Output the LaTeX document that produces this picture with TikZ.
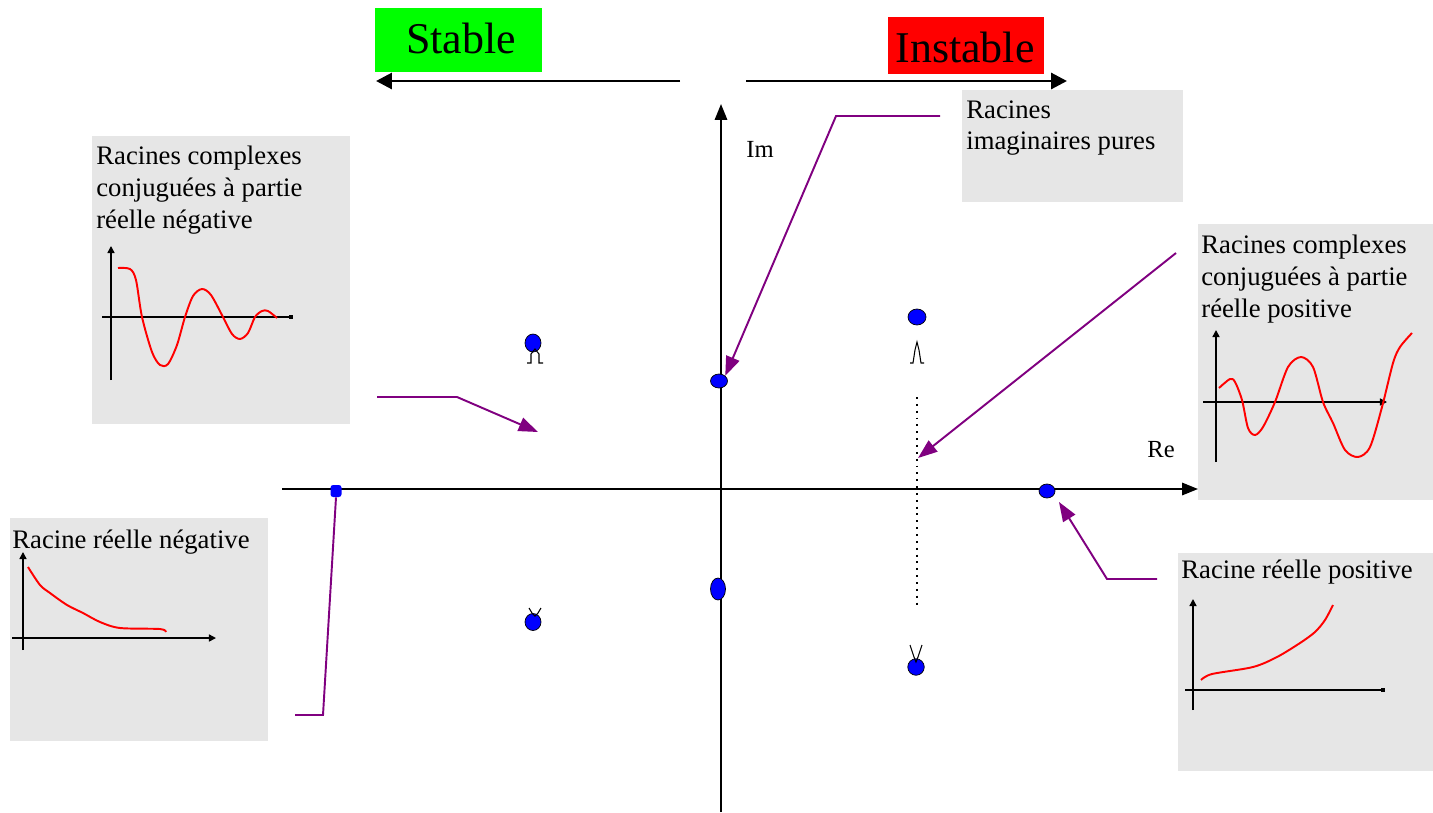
\documentclass[tikz,border=0pt]{standalone}
\usepackage{fontspec}
\setmainfont{Liberation Serif}
\usetikzlibrary{arrows.meta,shapes.geometric}
\definecolor{boxgray}{RGB}{230,230,230}
\definecolor{purp}{RGB}{128,0,128}
\definecolor{grn}{RGB}{0,255,0}
\definecolor{rd}{RGB}{255,0,0}
\definecolor{pblue}{RGB}{0,0,255}
\tikzset{
  panel/.style={fill=boxgray, draw=none, anchor=north west, inner sep=0pt},
  boxtext/.style={anchor=north west, inner sep=0pt, align=left, font=\fontsize{15.2}{18.1}\selectfont},
  bigtext/.style={inner sep=0pt, font=\fontsize{25}{28}\selectfont},
  axistext/.style={anchor=base west, inner sep=0pt, font=\fontsize{14}{16}\selectfont},
  bigarrow/.style={line width=1.7pt, -{Triangle[length=9pt,width=9pt]}},
  axis/.style={line width=1.1pt, -{Triangle[length=9pt,width=7pt]}},
  conn/.style={purp, line width=1.1pt, -{Triangle[length=11pt,width=8pt]}},
  connplain/.style={purp, line width=1.1pt},
  pole/.style={ellipse, fill=pblue, draw=black, line width=0.4pt, inner sep=0pt},
  tickmark/.style={line width=0.6pt, black},
  gaxis/.style={line width=0.85pt, -{Triangle[length=4pt,width=4pt]}},
  gaxisq/.style={line width=0.85pt, -{Square[length=2.5pt,width=2.5pt]}},
  curve/.style={rd, line width=1.1pt}
}
\begin{document}
\begin{tikzpicture}[x=0.02cm,y=-0.02cm]
\useasboundingbox (0,0) rectangle (1433,812);
\fill[white] (0,0) rectangle (1433,812);

% Stable / Instable
\node[fill=grn, inner sep=0pt, anchor=north west, minimum width=3.34cm, minimum height=1.28cm] (gbox) at (375,8) {};
\node[bigtext] (stable) at (461,38) {Stable};
\node[fill=rd, inner sep=0pt, anchor=north west, minimum width=3.12cm, minimum height=1.14cm] (rbox) at (888,17) {};
\node[bigtext] (instable) at (965,47) {Instable};
\coordinate (la) at (680,81);
\coordinate (lb) at (376,81);
\coordinate (ra) at (746,81);
\coordinate (rb) at (1067,81);
\draw[bigarrow] (la) -- (lb);
\draw[bigarrow] (ra) -- (rb);

% panels
\node[panel, minimum width=5.16cm, minimum height=5.76cm] (ptl) at (92,136) {};
\node[panel, minimum width=5.16cm, minimum height=4.46cm] (pbl) at (10,518) {};
\node[panel, minimum width=4.42cm, minimum height=2.24cm] (pim) at (962,90) {};
\node[panel, minimum width=4.70cm, minimum height=5.52cm] (pr) at (1198,224) {};
\node[panel, minimum width=5.10cm, minimum height=4.36cm] (pbr) at (1178,553) {};

\node[boxtext] (ttl) at (96,146) {Racines complexes\\conjuguées à partie\\réelle négative};
\node[boxtext] (tbl) at (12,530) {Racine réelle négative};
\node[boxtext] (tim) at (966,100) {Racines\\imaginaires pures};
\node[boxtext] (tr) at (1201,235) {Racines complexes\\conjuguées à partie\\réelle positive};
\node[boxtext] (tbr) at (1181,560) {Racine réelle positive};

% small graphs
\draw[gaxis] (111,380) -- (111,246);
\draw[gaxisq] (102,317) -- (293,317);
\draw[curve] plot[smooth] coordinates {(118,268) (130,269) (136,280) (142,317) (152,352) (160,365) (168,364) (177,345) (185,317) (193,296) (202,289) (211,295) (223,317) (232,334) (240,339) (248,333) (255,317) (262,311) (268,311) (277,318)};

\draw[gaxis] (23,650) -- (23,552);
\draw[gaxis] (12,638) -- (216,638);
\draw[curve] plot[smooth] coordinates {(28,567) (40,585) (50,593) (67,605) (83,613) (100,622) (120,628) (160,629) (166,632)};

\draw[gaxis] (1216,462) -- (1216,330);
\draw[gaxis] (1203,402) -- (1387,402);
\draw[curve] plot[smooth] coordinates {(1219,388) (1230,379) (1235,382) (1242,400) (1248,428) (1255,435) (1263,427) (1275,402) (1288,367) (1301,357) (1313,367) (1323,402) (1333,423) (1345,450) (1358,457) (1370,447) (1382,407) (1393,363) (1400,347) (1412,333)};

\draw[gaxis] (1193,710) -- (1193,599);
\draw[gaxisq] (1185,690) -- (1385,690);
\draw[curve] plot[smooth] coordinates {(1201,680) (1212,674) (1253,667) (1277,657) (1300,643) (1315,632) (1325,620) (1333,605)};

% main axes
\coordinate (xs) at (282,489);
\coordinate (xe) at (1198,489);
\coordinate (ys) at (721,812);
\coordinate (ye) at (721,104);
\draw[axis] (xs) -- (xe);
\draw[axis] (ys) -- (ye);
\node[axistext] (im) at (746,157) {Im};
\node[axistext] (re) at (1147,457) {Re};

% dotted line
\coordinate (da) at (917,397);
\coordinate (db) at (917,607);
\draw[line width=1pt, dash pattern=on 1.1pt off 2.8pt] (da) -- (db);

% poles
\node[pole, minimum width=0.32cm, minimum height=0.36cm] (p1) at (533,343) {};
\node[pole, minimum width=0.32cm, minimum height=0.34cm] (p2) at (533,622) {};
\node[pole, minimum width=0.36cm, minimum height=0.32cm] (p3) at (917,317) {};
\node[pole, minimum width=0.33cm, minimum height=0.33cm] (p4) at (916,667) {};
\node[pole, minimum width=0.34cm, minimum height=0.28cm] (p5) at (719,381) {};
\node[pole, minimum width=0.3cm, minimum height=0.44cm] (p6) at (718,589) {};
\node[pole, minimum width=0.32cm, minimum height=0.28cm] (p7) at (1047,491) {};
\node[rectangle, rounded corners=1.5pt, fill=pblue, inner sep=0pt, minimum width=0.22cm, minimum height=0.24cm] (p8) at (336,491) {};

% marks near poles
\draw[tickmark] (527,363) -- (531,363) -- (531,354) -- (535,349) -- (539,354) -- (539,363) -- (543,363);
\draw[tickmark] (910,363) -- (913,363) -- (915,350) -- (917,342) -- (919,350) -- (921,363) -- (924,363);
\draw[tickmark] (910,645) -- (914,657) -- (916,662) -- (918,657) -- (922,645);
\draw[tickmark] (529,608) -- (532,613) -- (535,616) -- (538,613) -- (541,608);

% purple connectors
\coordinate (c1a) at (940,116);
\coordinate (c1b) at (836,116);
\draw[conn] (c1a) -- (c1b) -- (p5.north east);
\coordinate (c2a) at (377,397);
\coordinate (c2b) at (457,397);
\coordinate (c2c) at (538,432);
\draw[conn] (c2a) -- (c2b) -- (c2c);
\coordinate (c3a) at (1176,253);
\coordinate (c3b) at (918,458);
\draw[conn] (c3a) -- (c3b);
\coordinate (c4a) at (1157,579);
\coordinate (c4b) at (1107,579);
\coordinate (c4c) at (1059,502);
\draw[conn] (c4a) -- (c4b) -- (c4c);
\coordinate (c5a) at (295,715);
\coordinate (c5b) at (323,715);
\draw[connplain] (c5a) -- (c5b) -- (p8.south);
\end{tikzpicture}
\end{document}
